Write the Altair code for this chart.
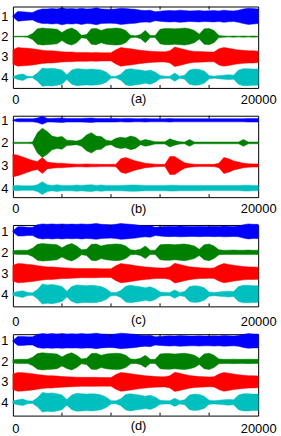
import altair as alt
import pandas as pd

# envelope readings every 400 samples (0 .. 20000), amplitude in units of trace spacing
N_STEP = 400
x_labels = [0, 20000]
x_inner_ticks = [4000, 8000, 12000, 16000]
trace_ids = [1, 2, 3, 4]
trace_names = ["1", "2", "3", "4"]
colors = ["#0000ff", "#008000", "#ff0000", "#00bfbf"]
panel_titles = ["(a)", "(b)", "(c)", "(d)"]

blue_a = [0.03, 0.24, 0.22, 0.2, 0.18, 0.3, 0.36, 0.36, 0.38, 0.36, 0.42, 0.37, 0.38, 0.36, 0.4, 0.36, 0.37,
          0.42, 0.36, 0.35, 0.34, 0.36, 0.4, 0.38, 0.36, 0.34, 0.3, 0.28, 0.3, 0.22, 0.25, 0.27, 0.28, 0.27,
          0.3, 0.28, 0.26, 0.27, 0.28, 0.26, 0.27, 0.28, 0.26, 0.3, 0.27, 0.26, 0.3, 0.36, 0.4, 0.38, 0.36]
green_a = [0.02, 0.02, 0.02, 0.03, 0.15, 0.38, 0.42, 0.4, 0.38, 0.36, 0.2, 0.35, 0.42, 0.3, 0.06, 0.1, 0.38,
           0.4, 0.3, 0.38, 0.4, 0.42, 0.4, 0.3, 0.06, 0.04, 0.1, 0.3, 0.05, 0.05, 0.36, 0.4, 0.4, 0.38, 0.4,
           0.42, 0.38, 0.3, 0.12, 0.38, 0.4, 0.3, 0.05, 0.03, 0.02, 0.03, 0.02, 0.03, 0.02, 0.03, 0.02]
red_a = [0.35, 0.46, 0.44, 0.42, 0.4, 0.36, 0.33, 0.3, 0.3, 0.28, 0.25, 0.24, 0.24, 0.22, 0.22, 0.22, 0.2,
         0.22, 0.2, 0.2, 0.2, 0.35, 0.46, 0.42, 0.4, 0.36, 0.33, 0.3, 0.28, 0.26, 0.25, 0.25, 0.3, 0.48, 0.42,
         0.36, 0.3, 0.27, 0.26, 0.25, 0.24, 0.24, 0.4, 0.46, 0.42, 0.38, 0.34, 0.32, 0.3, 0.3, 0.28]
cyan_a = [0.02, 0.12, 0.16, 0.04, 0.03, 0.2, 0.45, 0.42, 0.44, 0.4, 0.35, 0.12, 0.35, 0.42, 0.4, 0.38, 0.4,
          0.38, 0.35, 0.25, 0.05, 0.04, 0.15, 0.38, 0.42, 0.38, 0.35, 0.3, 0.35, 0.25, 0.08, 0.05, 0.05, 0.2,
          0.05, 0.1, 0.35, 0.4, 0.38, 0.3, 0.08, 0.05, 0.08, 0.1, 0.12, 0.1, 0.35, 0.42, 0.42, 0.4, 0.4]

blue_b = [0.02, 0.07, 0.07, 0.07, 0.07, 0.1, 0.18, 0.08, 0.08, 0.09, 0.1, 0.08, 0.08, 0.08, 0.08, 0.09, 0.1,
          0.08, 0.08, 0.08, 0.08, 0.08, 0.07, 0.08, 0.08, 0.07, 0.07, 0.08, 0.07, 0.07, 0.07, 0.07, 0.08, 0.07,
          0.07, 0.07, 0.07, 0.07, 0.07, 0.07, 0.07, 0.07, 0.07, 0.07, 0.07, 0.07, 0.07, 0.07, 0.08, 0.08, 0.08]
green_b = [0.03, 0.03, 0.03, 0.03, 0.04, 0.45, 0.65, 0.5, 0.3, 0.25, 0.28, 0.12, 0.1, 0.08, 0.15, 0.35, 0.45,
           0.3, 0.28, 0.12, 0.08, 0.2, 0.25, 0.22, 0.3, 0.25, 0.08, 0.15, 0.1, 0.05, 0.05, 0.05, 0.18, 0.1,
           0.05, 0.04, 0.15, 0.04, 0.04, 0.04, 0.04, 0.04, 0.04, 0.04, 0.04, 0.04, 0.04, 0.15, 0.04, 0.04, 0.04]
red_b = [0.5, 0.45, 0.38, 0.3, 0.22, 0.18, 0.35, 0.15, 0.12, 0.1, 0.1, 0.08, 0.07, 0.06, 0.06, 0.07, 0.06,
         0.06, 0.05, 0.05, 0.05, 0.06, 0.3, 0.35, 0.28, 0.2, 0.15, 0.1, 0.08, 0.06, 0.05, 0.05, 0.4, 0.4, 0.25,
         0.12, 0.08, 0.06, 0.05, 0.05, 0.05, 0.05, 0.1, 0.35, 0.3, 0.2, 0.15, 0.1, 0.08, 0.07, 0.07]
cyan_b = [0.1, 0.12, 0.1, 0.1, 0.1, 0.15, 0.28, 0.15, 0.12, 0.15, 0.12, 0.12, 0.12, 0.14, 0.12, 0.14, 0.15,
          0.12, 0.14, 0.12, 0.12, 0.12, 0.12, 0.13, 0.14, 0.14, 0.13, 0.12, 0.12, 0.12, 0.12, 0.12, 0.13, 0.13,
          0.12, 0.12, 0.12, 0.12, 0.12, 0.11, 0.11, 0.11, 0.11, 0.11, 0.11, 0.11, 0.11, 0.13, 0.13, 0.12, 0.12]

blue_c = [0.03, 0.22, 0.22, 0.2, 0.2, 0.32, 0.36, 0.34, 0.36, 0.34, 0.36, 0.34, 0.35, 0.34, 0.36, 0.34, 0.35,
          0.38, 0.34, 0.33, 0.32, 0.34, 0.38, 0.36, 0.34, 0.32, 0.28, 0.26, 0.28, 0.2, 0.22, 0.24, 0.25, 0.24,
          0.26, 0.25, 0.24, 0.24, 0.25, 0.24, 0.24, 0.25, 0.24, 0.26, 0.25, 0.24, 0.26, 0.32, 0.36, 0.34, 0.34]
green_c = [0.08, 0.1, 0.1, 0.1, 0.2, 0.38, 0.42, 0.4, 0.38, 0.36, 0.22, 0.35, 0.42, 0.3, 0.12, 0.15, 0.38,
           0.4, 0.3, 0.36, 0.38, 0.4, 0.38, 0.3, 0.12, 0.1, 0.15, 0.3, 0.1, 0.1, 0.36, 0.38, 0.38, 0.36, 0.38,
           0.4, 0.36, 0.3, 0.15, 0.36, 0.4, 0.3, 0.12, 0.1, 0.1, 0.11, 0.1, 0.1, 0.11, 0.1, 0.1]
red_c = [0.38, 0.46, 0.45, 0.42, 0.4, 0.36, 0.33, 0.3, 0.3, 0.28, 0.26, 0.25, 0.24, 0.23, 0.22, 0.22, 0.22,
         0.22, 0.21, 0.21, 0.21, 0.36, 0.46, 0.43, 0.4, 0.36, 0.33, 0.3, 0.28, 0.26, 0.25, 0.25, 0.3, 0.47,
         0.42, 0.36, 0.31, 0.28, 0.26, 0.25, 0.24, 0.25, 0.38, 0.46, 0.42, 0.38, 0.35, 0.32, 0.3, 0.3, 0.29]
cyan_c = [0.06, 0.12, 0.16, 0.07, 0.06, 0.22, 0.48, 0.44, 0.46, 0.42, 0.36, 0.14, 0.36, 0.44, 0.42, 0.4, 0.42,
          0.4, 0.36, 0.26, 0.08, 0.07, 0.17, 0.38, 0.42, 0.38, 0.35, 0.3, 0.35, 0.26, 0.1, 0.08, 0.08, 0.2,
          0.08, 0.12, 0.36, 0.4, 0.38, 0.3, 0.1, 0.08, 0.1, 0.12, 0.14, 0.12, 0.36, 0.42, 0.42, 0.4, 0.4]

# panel (d) looks the same as panel (c)
blue_d = blue_c
green_d = green_c
red_d = red_c
cyan_d = cyan_c

panel_traces = [
    [blue_a, green_a, red_a, cyan_a],
    [blue_b, green_b, red_b, cyan_b],
    [blue_c, green_c, red_c, cyan_c],
    [blue_d, green_d, red_d, cyan_d],
]
panel_ydomains = [(0.52, 4.53), (0.8, 4.4), (0.69, 4.59), (0.67, 4.65)]

W, H = 247, 82
label_pads = [16, 15, 19, 17]
title_ys = [14.5, 15.5, 17.5, 14]

FONT = "Liberation Sans"


def make_panel(i):
    rows = []
    for tid, amp in zip(trace_ids, panel_traces[i]):
        for k, a in enumerate(amp):
            rows.append({"x": k * N_STEP, "trace": str(tid), "lo": tid - a, "hi": tid + a})
    df = pd.DataFrame(rows)
    xscale = alt.Scale(domain=[0, 20000], nice=False, zero=False)
    yscale = alt.Scale(domain=list(panel_ydomains[i]), reverse=True, nice=False, zero=False)
    cscale = alt.Scale(domain=trace_names, range=colors)
    xaxis = alt.Axis(
        values=x_labels, format="d", ticks=False, tickSize=0, domain=False, grid=False,
        labelPadding=label_pads[i], labelBaseline="alphabetic", labelFlush=False,
        labelOffset={"condition": {"test": "datum.value == 0", "value": 2.5}, "value": 0},
        title=panel_titles[i], titleX=126, titleY=title_ys[i], titleBaseline="alphabetic",
        titleAlign="center", titleFontWeight="normal")
    area = alt.Chart(df).mark_area(strokeWidth=0.5, opacity=1, fillOpacity=1).encode(
        x=alt.X("x:Q", scale=xscale, axis=xaxis),
        y=alt.Y("lo:Q", scale=yscale, axis=alt.Axis(
            values=trace_ids, ticks=False, tickSize=0, domain=False, grid=False,
            labelPadding=5, labelBaseline="middle", title=None)),
        y2="hi:Q",
        color=alt.Color("trace:N", scale=cscale, legend=None),
        stroke=alt.Stroke("trace:N", scale=cscale, legend=None),
    )
    tdf = pd.DataFrame({"x": x_inner_ticks})
    top_ticks = alt.Chart(tdf).mark_rule(color="black", strokeWidth=1).encode(
        x=alt.X("x:Q", scale=xscale, axis=xaxis), y=alt.value(0), y2=alt.value(3))
    bot_ticks = alt.Chart(tdf).mark_rule(color="black", strokeWidth=1).encode(
        x=alt.X("x:Q", scale=xscale, axis=xaxis), y=alt.value(H - 3), y2=alt.value(H))
    return alt.layer(area, top_ticks, bot_ticks).properties(width=W, height=H)


chart = alt.vconcat(*[make_panel(i) for i in range(4)], spacing=28, bounds="flush").properties(
    padding={"left": 0, "top": 4, "right": 4, "bottom": 0}
).configure_view(stroke="black", strokeWidth=1).configure_axis(
    labelFont=FONT, labelFontSize=13, labelColor="black",
    titleFont=FONT, titleFontSize=13, titleColor="black"
)

chart.save("out.html", embed_options={"renderer": "svg", "actions": False})
